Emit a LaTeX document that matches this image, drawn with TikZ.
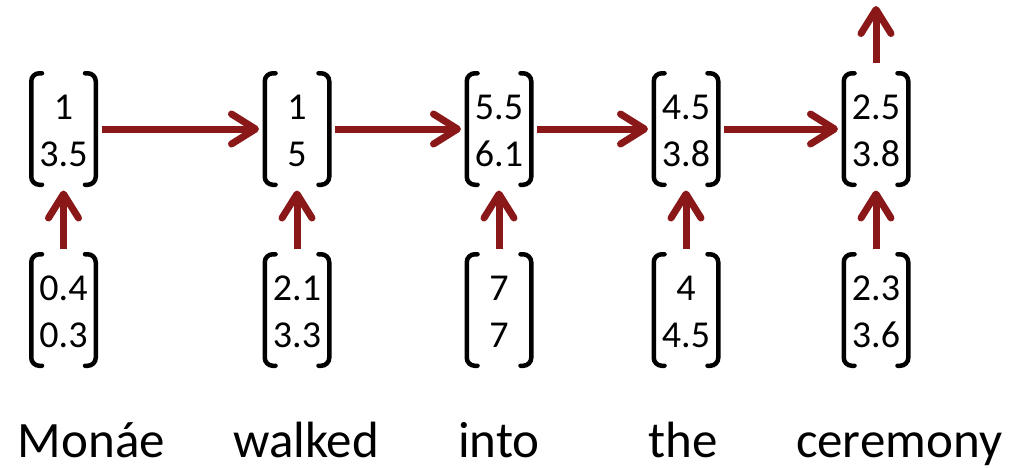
\documentclass[tikz,border=0pt]{standalone}
\usepackage{fontspec}
\setmainfont{Carlito}
\usepackage{tikz}
\usepackage{xcolor}
\usetikzlibrary{arrows.meta}
\definecolor{arrowred}{RGB}{139,24,24}
\newcommand{\vecval}[2]{\begin{tabular}{@{}c@{}}#1\\#2\end{tabular}}
\tikzset{
  brkt/.style={-, draw=black, line width=4.5pt, line cap=round, rounded corners=8pt},
  vec/.style={rectangle, inner sep=0pt, minimum width=69pt, minimum height=116pt,
    font=\fontsize{38}{47}\selectfont, text height=57.5pt, text depth=36.5pt,
    path picture={
      \draw[brkt]
        ([shift={(13pt,-2.25pt)}]path picture bounding box.north west) --
        ([shift={(2.25pt,-2.25pt)}]path picture bounding box.north west) --
        ([shift={(2.25pt,2.25pt)}]path picture bounding box.south west) --
        ([shift={(13pt,2.25pt)}]path picture bounding box.south west);
      \draw[brkt]
        ([shift={(-13pt,-2.25pt)}]path picture bounding box.north east) --
        ([shift={(-2.25pt,-2.25pt)}]path picture bounding box.north east) --
        ([shift={(-2.25pt,2.25pt)}]path picture bounding box.south east) --
        ([shift={(-13pt,2.25pt)}]path picture bounding box.south east);
    }},
  word/.style={anchor=base, inner sep=0pt, font=\fontsize{51}{60}\selectfont}
}

\begin{document}
\begin{tikzpicture}[->,>={Straight Barb[length=24pt,width=30pt,round]},line width=7pt,draw=arrowred]
  \useasboundingbox (0,0) rectangle (1012pt,-467pt);
  \node[vec] (h1) at (63.5pt,-129pt) {\vecval{1}{3.5}};
  \node[vec] (h2) [right of=h1, node distance=233.5pt] {\vecval{1}{5}};
  \node[vec] (h3) [right of=h2, node distance=202pt] {\vecval{5.5}{6.1}};
  \node[vec] (h4) [right of=h3, node distance=187pt] {\vecval{4.5}{3.8}};
  \node[vec] (h5) [right of=h4, node distance=190pt] {\vecval{2.5}{3.8}};
  \node[vec] (x1) [below of=h1, node distance=181pt] {\vecval{0.4}{0.3}};
  \node[vec] (x2) [below of=h2, node distance=181pt] {\vecval{2.1}{3.3}};
  \node[vec] (x3) [below of=h3, node distance=181pt] {\vecval{7}{7}};
  \node[vec] (x4) [below of=h4, node distance=181pt] {\vecval{4}{4.5}};
  \node[vec] (x5) [below of=h5, node distance=181pt] {\vecval{2.3}{3.6}};
  \coordinate (out) at ([yshift=123pt]h5.center);

  \node[word] (w1) at (91.5pt,-457pt) {Monáe};
  \node[word] (w2) at (306pt,-457pt) {walked};
  \node[word] (w3) at (499pt,-457pt) {into};
  \node[word] (w4) at (683.5pt,-457pt) {the};
  \node[word] (w5) at (899pt,-457pt) {ceremony};

  \path (x1) edge (h1);
  \path (x2) edge (h2);
  \path (x3) edge (h3);
  \path (x4) edge (h4);
  \path (x5) edge (h5);
  \path (h1) edge (h2);
  \path (h2) edge (h3);
  \path (h3) edge (h4);
  \path (h4) edge (h5);
  \path (h5) edge[shorten <=5pt] (out);
\end{tikzpicture}
\end{document}
